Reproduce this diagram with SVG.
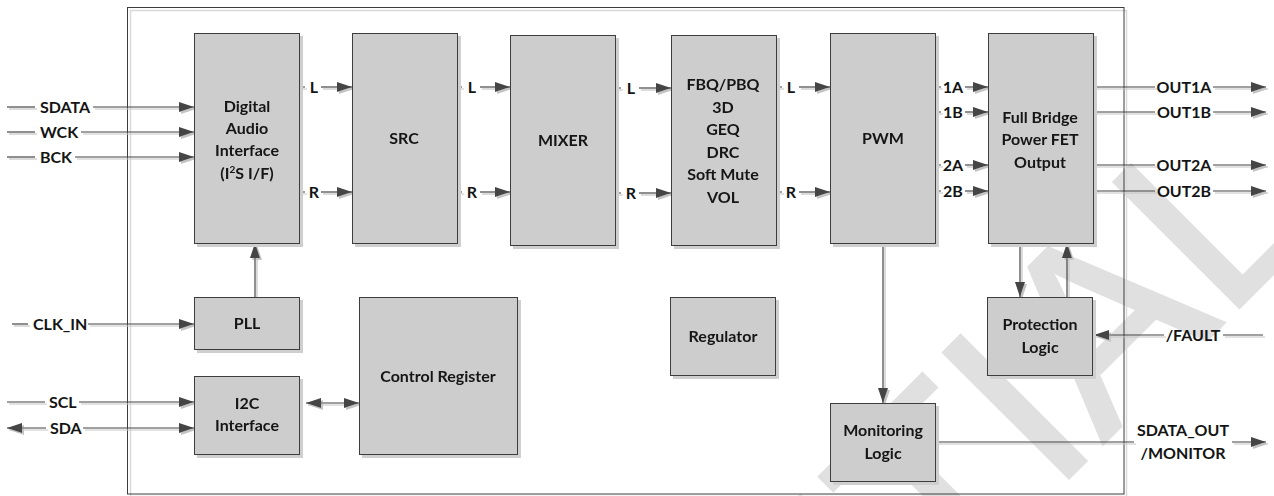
<svg xmlns="http://www.w3.org/2000/svg" width="1274" height="496" viewBox="0 0 1274 496">
<defs>
<style>
.wm{font-family:"Liberation Sans",Arial,sans-serif;font-size:258px;fill:#e0e0e0;stroke:#e0e0e0;stroke-width:3}
.box{fill:#cdcdcd;stroke:#3c3c3c;stroke-width:1}
.t{font-family:Lato,"Liberation Sans",sans-serif;font-weight:700;font-size:16px;fill:#141414;text-anchor:middle}
.s{text-anchor:start}
.ln{stroke:#444;stroke-width:1.2;fill:none}
.a{marker-end:url(#ah)}
.b{marker-start:url(#ah);marker-end:url(#ah)}
</style>
<marker id="ah" viewBox="0 0 15 10" refX="15" refY="5" markerWidth="15" markerHeight="10" markerUnits="userSpaceOnUse" orient="auto-start-reverse">
<path d="M0,0 L15,5 L0,10 Z" fill="#444"/>
</marker>
<filter id="sh" x="-5%" y="-5%" width="110%" height="110%">
<feOffset in="SourceAlpha" dx="3" dy="3" result="o"/>
<feFlood flood-color="#cfcfcf"/>
<feComposite in2="o" operator="in" result="s"/>
<feMerge><feMergeNode in="s"/><feMergeNode in="SourceGraphic"/></feMerge>
</filter>
<filter id="lsh" x="-2%" y="-2%" width="104%" height="104%">
<feOffset in="SourceAlpha" dx="1.5" dy="1.5" result="o"/>
<feFlood flood-color="#c4c4c4"/>
<feComposite in2="o" operator="in" result="s"/>
<feMerge><feMergeNode in="s"/><feMergeNode in="SourceGraphic"/></feMerge>
</filter>
</defs>
<rect width="1274" height="496" fill="#fff"/>
<text class="wm" transform="translate(1326,221) rotate(-45)" text-anchor="end">CONFIDENTIAL</text>
<g id="chip-border">
<rect x="130.5" y="10.5" width="996" height="486" fill="none" stroke="#d9d9d9" stroke-width="1.5"/>
<rect x="127.5" y="7.5" width="996.5" height="486.5" fill="none" stroke="#3c3c3c" stroke-width="1"/>
</g>
<g id="connectors" filter="url(#lsh)">
<path class="ln" d="M7,107H35"/><path class="ln a" d="M93,107H194"/>
<path class="ln" d="M7,132H35"/><path class="ln a" d="M81,132H194"/>
<path class="ln" d="M7,157H35"/><path class="ln a" d="M75,157H194"/>
<path class="ln" d="M12,324H28"/><path class="ln a" d="M88,324H194"/>
<path class="ln" d="M7,402H45"/><path class="ln a" d="M79,402H194"/>
<path class="ln a" d="M46,428H7"/><path class="ln a" d="M83,428H194"/>
<path class="ln a" d="M255,297V243"/>
<path class="ln b" d="M306,403H359"/>
<path class="ln" d="M300,87H305M300,192H305"/>
<path class="ln a" d="M321,87H352"/><path class="ln a" d="M321,192H352"/>
<path class="ln" d="M457,87H462M457,192H462"/>
<path class="ln a" d="M480,87H510"/><path class="ln a" d="M480,192H510"/>
<path class="ln" d="M615,88H621M615,193H621"/>
<path class="ln a" d="M639,88H671"/><path class="ln a" d="M639,193H671"/>
<path class="ln" d="M776,87H782M776,192H782"/>
<path class="ln a" d="M799,87H830"/><path class="ln a" d="M799,192H830"/>
<path class="ln" d="M935,87H941M935,112H941M935,165H941M935,191H941"/>
<path class="ln a" d="M965,87H988"/><path class="ln a" d="M965,112H988"/>
<path class="ln a" d="M965,165H988"/><path class="ln a" d="M965,191H988"/>
<path class="ln" d="M1093,87H1155M1093,112H1155M1093,165H1155M1093,191H1155"/>
<path class="ln a" d="M1213,87H1266"/><path class="ln a" d="M1213,112H1266"/>
<path class="ln a" d="M1213,165H1266"/><path class="ln a" d="M1213,191H1266"/>
<path class="ln a" d="M883,243V403"/>
<path class="ln a" d="M1020,243V297"/>
<path class="ln a" d="M1067,297V243"/>
<path class="ln a" d="M1164,335H1094"/><path class="ln" d="M1223,335H1263"/>
<path class="ln" d="M935,442H1134"/><path class="ln a" d="M1232,442H1266"/>
</g>
<g id="io-labels">
<text class="t s" x="40" y="112.5">SDATA</text>
<text class="t s" x="40" y="137.5">WCK</text>
<text class="t s" x="40" y="162.5">BCK</text>
<text class="t s" x="33" y="329.5">CLK_IN</text>
<text class="t s" x="49" y="407.5">SCL</text>
<text class="t s" x="50" y="433.5">SDA</text>
<text class="t" x="314" y="92.5">L</text><text class="t" x="314" y="197.5">R</text>
<text class="t" x="472" y="92.5">L</text><text class="t" x="472" y="197.5">R</text>
<text class="t" x="631" y="93.5">L</text><text class="t" x="631" y="198.5">R</text>
<text class="t" x="791" y="92.5">L</text><text class="t" x="791" y="197.5">R</text>
<text class="t" x="953" y="92.5">1A</text><text class="t" x="953" y="117.5">1B</text>
<text class="t" x="953" y="170.5">2A</text><text class="t" x="953" y="196.5">2B</text>
<text class="t" x="1184" y="92.5">OUT1A</text><text class="t" x="1184" y="117.5">OUT1B</text>
<text class="t" x="1184" y="170.5">OUT2A</text><text class="t" x="1184" y="196.5">OUT2B</text>
<text class="t" x="1193" y="340.5">/FAULT</text>
<text class="t" x="1183" y="435.5">SDATA_OUT</text>
<text class="t" x="1183" y="458.5">/MONITOR</text>
</g>
<g id="dai" filter="url(#sh)">
<rect class="box" x="194.5" y="33.5" width="105" height="210"/>
<text class="t" x="247" y="111.5">Digital</text>
<text class="t" x="247" y="133.5">Audio</text>
<text class="t" x="247" y="155.5">Interface</text>
<text class="t" x="247" y="178.5">(I<tspan font-size="10" dy="-6">2</tspan><tspan dy="6">S I/F)</tspan></text>
</g>
<g id="src" filter="url(#sh)">
<rect class="box" x="352.5" y="33.5" width="105" height="210"/>
<text class="t" x="404" y="143.5">SRC</text>
</g>
<g id="mixer" filter="url(#sh)">
<rect class="box" x="510.5" y="35.5" width="105" height="210"/>
<text class="t" x="563" y="145.5">MIXER</text>
</g>
<g id="dsp" filter="url(#sh)">
<rect class="box" x="671.5" y="35.5" width="105" height="210"/>
<text class="t" x="723" y="89.5">FBQ/PBQ</text>
<text class="t" x="723" y="112.5">3D</text>
<text class="t" x="723" y="134.5">GEQ</text>
<text class="t" x="723" y="157.5">DRC</text>
<text class="t" x="723" y="179.5">Soft Mute</text>
<text class="t" x="723" y="202.5">VOL</text>
</g>
<g id="pwm" filter="url(#sh)">
<rect class="box" x="830.5" y="33.5" width="105" height="210"/>
<text class="t" x="883" y="143.5">PWM</text>
</g>
<g id="fullbridge" filter="url(#sh)">
<rect class="box" x="988.5" y="33.5" width="105" height="210"/>
<text class="t" x="1040" y="122.5">Full Bridge</text>
<text class="t" x="1040" y="144.5">Power FET</text>
<text class="t" x="1040" y="167.5">Output</text>
</g>
<g id="pll" filter="url(#sh)">
<rect class="box" x="194.5" y="297.5" width="105" height="52"/>
<text class="t" x="247" y="328.5">PLL</text>
</g>
<g id="i2c" filter="url(#sh)">
<rect class="box" x="194.5" y="376.5" width="105" height="78"/>
<text class="t" x="247" y="408.5">I2C</text>
<text class="t" x="247" y="430.5">Interface</text>
</g>
<g id="control-register" filter="url(#sh)">
<rect class="box" x="359.5" y="297.5" width="158" height="157"/>
<text class="t" x="438" y="381.5">Control Register</text>
</g>
<g id="regulator" filter="url(#sh)">
<rect class="box" x="670.5" y="297.5" width="105" height="78"/>
<text class="t" x="723" y="341.5">Regulator</text>
</g>
<g id="protection" filter="url(#sh)">
<rect class="box" x="987.5" y="297.5" width="105" height="78"/>
<text class="t" x="1040" y="329.5">Protection</text>
<text class="t" x="1040" y="352.5">Logic</text>
</g>
<g id="monitoring" filter="url(#sh)">
<rect class="box" x="830.5" y="403.5" width="105" height="78"/>
<text class="t" x="883" y="435.5">Monitoring</text>
<text class="t" x="883" y="458.5">Logic</text>
</g>
</svg>
